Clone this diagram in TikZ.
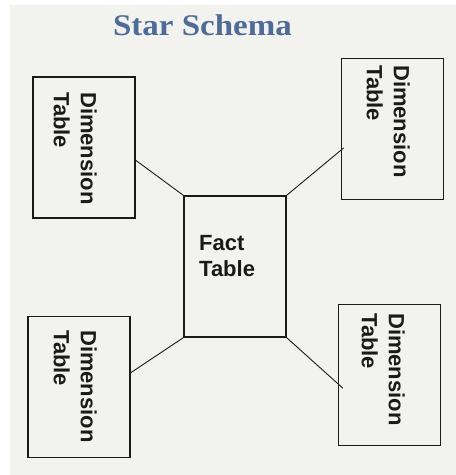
\documentclass[tikz,border=0pt]{standalone}
\usepackage{fontspec}
\usetikzlibrary{calc}
\newfontfamily\labelfont{Liberation Sans}
\newfontfamily\headfont[FakeStretch=1.1]{Liberation Serif}
\definecolor{paper}{HTML}{F2F2EE}
\definecolor{headblue}{HTML}{4F6B97}
\definecolor{ink}{HTML}{1A1A1A}
\tikzset{
  tablebox/.style={draw=ink, line width=1.6pt, rectangle, minimum width=102pt, minimum height=141pt, inner sep=0pt},
  dimtext/.style={rotate=-90, anchor=north west, inner sep=0pt, align=left,
    font=\labelfont\bfseries\fontsize{22}{27}\selectfont, text=ink},
  facttext/.style={anchor=north west, inner sep=0pt, align=left,
    font=\labelfont\bfseries\fontsize{22}{26}\selectfont, text=ink},
  link/.style={draw=ink, line width=0.9pt},
}
\begin{document}
\begin{tikzpicture}[x=1pt, y=-1pt]
  \useasboundingbox (0,0) rectangle (456,475);
  \fill[paper] (10,5) rectangle (456,475);

  % title
  \node[anchor=base, inner sep=0pt, text=headblue,
        font=\headfont\bfseries\fontsize{30}{34}\selectfont] (title) at (202.5,35) {Star Schema};

  % tables
  \node[tablebox] (tl)   at (84,147.5)  {};
  \node[tablebox] (tr)   at (392.5,129) {};
  \node[tablebox] (fact) at (235,266.5) {};
  \node[tablebox] (bl)   at (79,387)    {};
  \node[tablebox] (br)   at (389.5,375) {};

  % table labels
  \node[dimtext] (tltext) at (97,92)   {Dimension\\Table};
  \node[dimtext] (trtext) at (410,65)  {Dimension\\Table};
  \node[dimtext] (bltext) at (97,330)  {Dimension\\Table};
  \node[dimtext] (brtext) at (405,313) {Dimension\\Table};
  \node[facttext] (facttxt) at (199,235) {Fact\\Table};

  % connectors from the fact table to each dimension table
  \draw[link] ($(tl.north east)!0.59!(tl.south east)$) -- (fact.north west);
  \draw[link, shorten >=-4pt] (fact.north east) -- ($(tr.north west)!0.65!(tr.south west)$);
  \draw[link] ($(bl.north east)!0.40!(bl.south east)$) -- (fact.south west);
  \draw[link, shorten >=-7pt] (fact.south east) -- ($(br.north west)!0.56!(br.south west)$);
\end{tikzpicture}
\end{document}
